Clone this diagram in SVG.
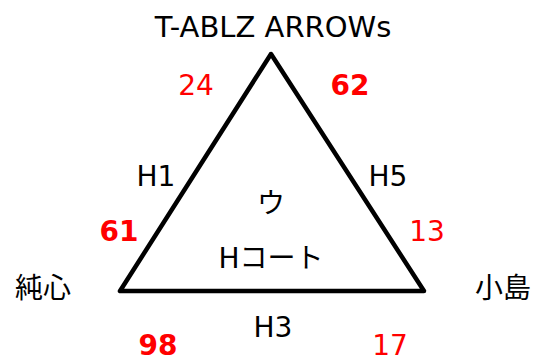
<svg xmlns="http://www.w3.org/2000/svg" width="535" height="356" viewBox="0 0 535 356">
<style>
text{font-family:"DejaVu Sans","Noto Sans CJK JP",sans-serif;font-size:28px;text-anchor:middle;fill:#000}
.r{fill:#FF0000}
.b{font-weight:bold}
</style>
<rect width="535" height="356" fill="#fff"/>
<g id="connectors">
<polygon points="271,54 120,291 424,291" fill="none" stroke="#000" stroke-width="4.5" stroke-linejoin="round"/>
</g>
<g id="title"><text x="273" y="37" style="font-size:29px">T-ABLZ ARROWs</text></g>
<g id="n24"><text class="r" x="196" y="95">24</text></g>
<g id="n62"><text class="r b" x="350" y="95">62</text></g>
<g id="h1"><text x="156" y="186">H1</text></g>
<g id="h5"><text x="388" y="186">H5</text></g>
<g id="u"><text x="271" y="213">ウ</text></g>
<g id="hcoat"><text x="271" y="268">Hコート</text></g>
<g id="n61"><text class="r b" x="119" y="241">61</text></g>
<g id="n13"><text class="r" x="427" y="241">13</text></g>
<g id="junshin"><text x="43" y="298">純心</text></g>
<g id="kojima"><text x="503" y="298">小島</text></g>
<g id="h3"><text x="273" y="337">H3</text></g>
<g id="n98"><text class="r b" x="158" y="355">98</text></g>
<g id="n17"><text class="r" x="390" y="355">17</text></g>
</svg>
